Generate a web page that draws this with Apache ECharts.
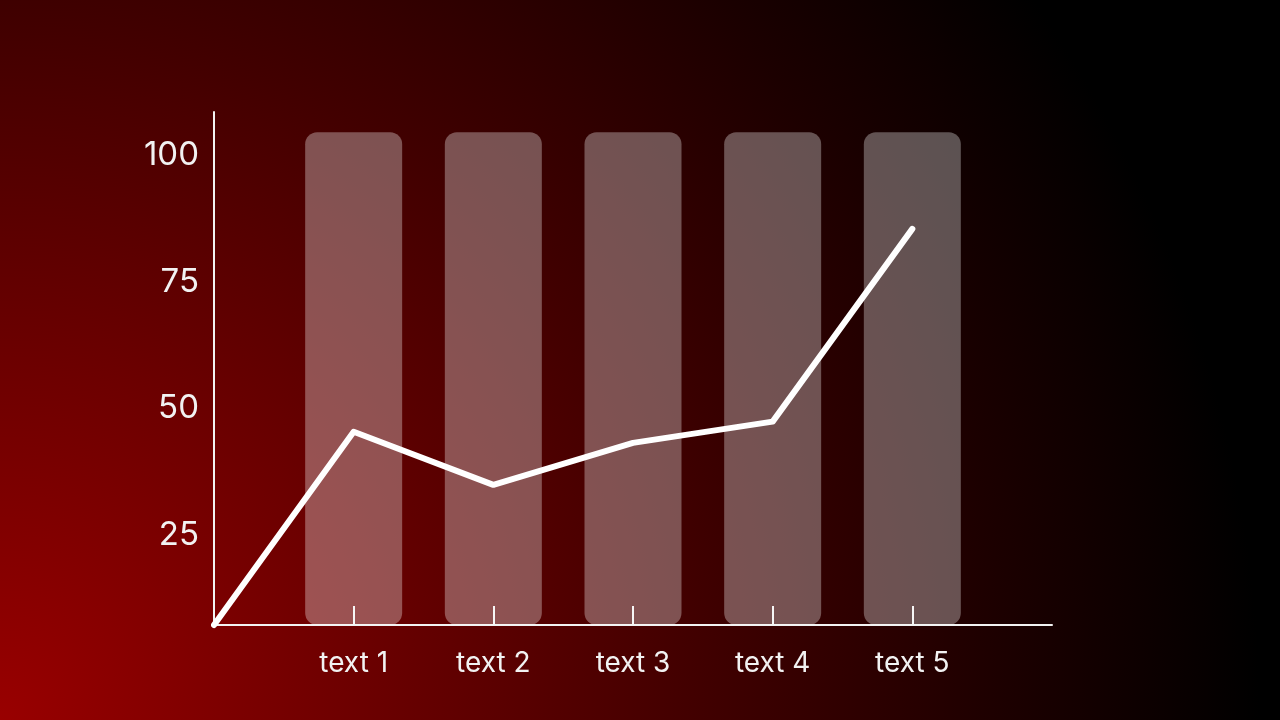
<!DOCTYPE html>
<html lang="en">
<head>
    <meta charset="UTF-8">
    <meta name="viewport" content="width=device-width, initial-scale=1.0">
    <script src="https://cdn.jsdelivr.net/npm/echarts@6.0.0/dist/echarts.min.js"></script>
    <title>Chart</title>
    <style>
        html, body { margin: 0; padding: 0; background: #000; }
        #main { width: 1280px; height: 720px; }
    </style>
</head>
<body>
    <div id="main"></div>
<script type="text/javascript">
    // data
    var categories = ['', 'text 1', 'text 2', 'text 3', 'text 4', 'text 5', ''];
    var lineValues = [7.2, 45.4, 34.9, 43.2, 47.4, 85.5, null];
    var trackValues = [null, 104.6, 104.6, 104.6, 104.6, 104.6, null];
    var yTicks = [25, 50, 75, 100];
    var yMin = 7.2;
    var yMax = 108.6;

    var chart = echarts.init(document.getElementById('main'));

    var option = {
        animation: false,
        backgroundColor: {
            type: 'radial',
            x: 0,
            y: 1,
            r: 1.75,
            colorStops: [
                { offset: 0, color: '#990000' },
                { offset: 0.3, color: '#6a0000' },
                { offset: 0.55, color: '#420000' },
                { offset: 0.8, color: '#1c0000' },
                { offset: 1, color: '#000000' }
            ]
        },
        grid: { left: 214, right: 228, top: 112, bottom: 95, containLabel: false },
        xAxis: {
            type: 'category',
            boundaryGap: false,
            data: categories,
            axisLine: { lineStyle: { color: '#f2f2f2', width: 2 } },
            axisTick: {
                show: true,
                inside: true,
                length: 19,
                interval: function (i, v) { return v !== ''; },
                lineStyle: { color: '#f2f2f2', width: 2 }
            },
            axisLabel: {
                interval: 0,
                margin: 25,
                color: '#f2f2f2',
                fontFamily: 'Inter',
                fontSize: 28
            },
            splitLine: { show: false }
        },
        yAxis: {
            type: 'value',
            min: yMin,
            max: yMax,
            axisLine: { show: true, lineStyle: { color: '#f2f2f2', width: 2 } },
            axisTick: { show: false },
            splitLine: { show: false },
            axisLabel: {
                customValues: yTicks,
                margin: 15,
                color: '#f2f2f2',
                fontFamily: 'Inter',
                fontSize: 33
            }
        },
        series: [
            {
                type: 'bar',
                data: trackValues,
                barWidth: 97,
                itemStyle: { color: 'rgba(255,255,255,0.32)', borderRadius: 12 },
                z: 1
            },
            {
                type: 'line',
                data: lineValues,
                symbol: 'none',
                clip: false,
                lineStyle: { color: '#ffffff', width: 6, cap: 'round', join: 'round' },
                z: 3
            }
        ]
    };

    chart.setOption(option);
</script>
</body>
</html>
